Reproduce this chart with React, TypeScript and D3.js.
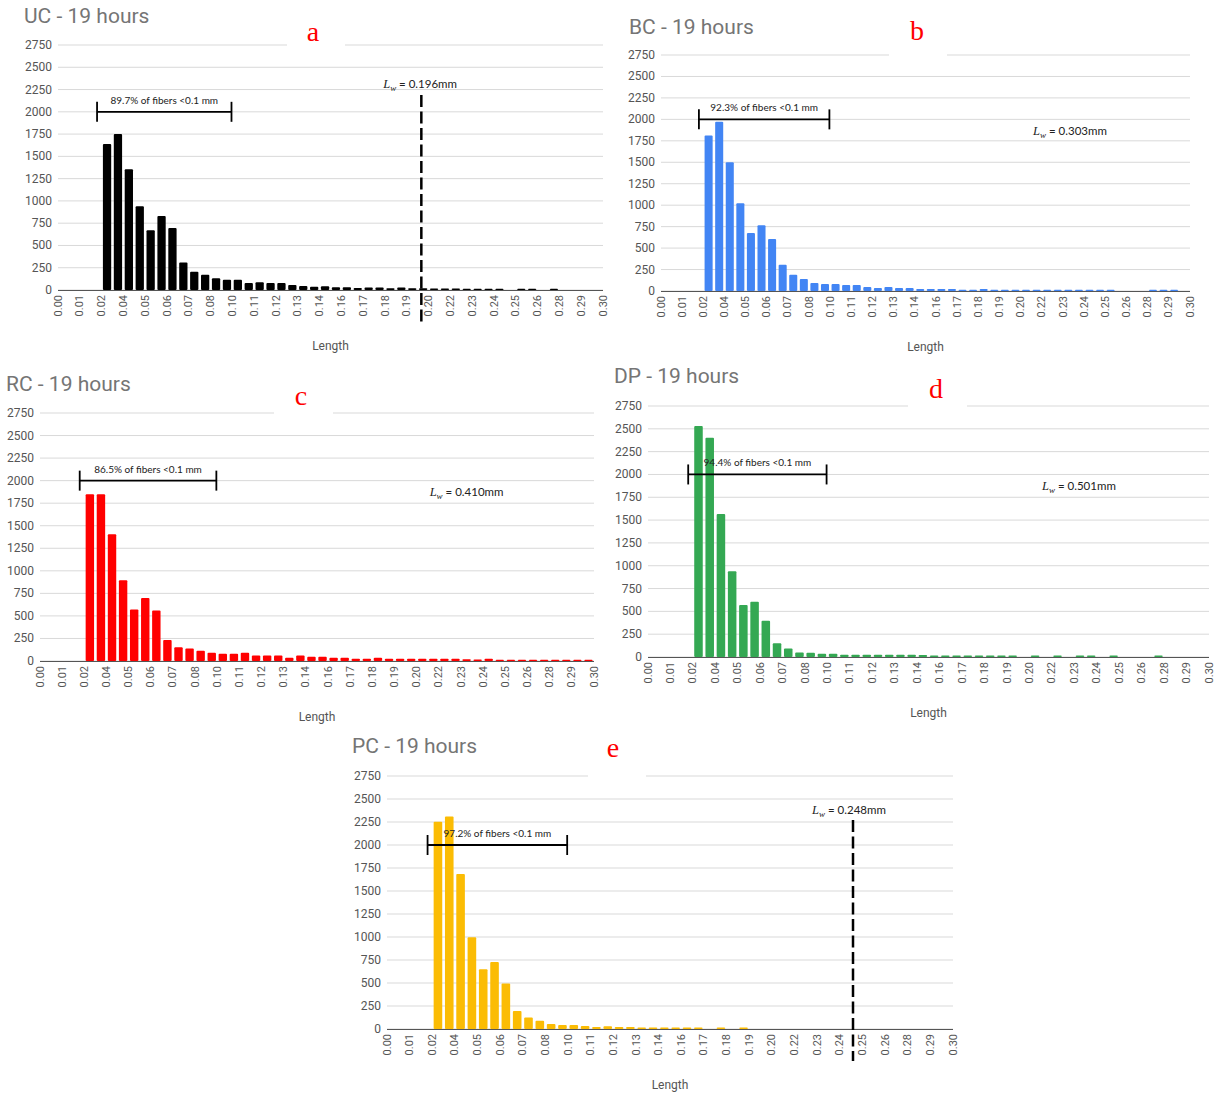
import React from "react";
import * as d3 from "d3";

// ---------- data ----------
const BIN = 0.006; // histogram bucket size (mm)
const X_TICK_VALUES = [0, 0.012, 0.024, 0.036, 0.048, 0.06, 0.072, 0.084, 0.096, 0.108, 0.12, 0.132, 0.144, 0.156, 0.168, 0.18, 0.192, 0.204, 0.216, 0.228, 0.24, 0.252, 0.264, 0.276, 0.288, 0.3];
const X_TICK_LABELS = ["0.00", "0.01", "0.02", "0.04", "0.05", "0.06", "0.07", "0.08", "0.10", "0.11", "0.12", "0.13", "0.14", "0.16", "0.17", "0.18", "0.19", "0.20", "0.22", "0.23", "0.24", "0.25", "0.26", "0.28", "0.29", "0.30"];
const Y_TICKS = [0, 250, 500, 750, 1000, 1250, 1500, 1750, 2000, 2250, 2500, 2750];

const UC = [0, 0, 0, 0, 1640, 1750, 1355, 940, 670, 830, 695, 310, 206, 170, 133, 114, 114, 79, 88, 78, 78, 55, 44, 36, 42, 32, 32, 23, 28, 28, 21, 28, 21, 21, 16, 18, 16, 15, 15, 15, 15, 0, 15, 15, 0, 15, 0, 0, 0, 0];
const BC = [0, 0, 0, 0, 1812, 1972, 1500, 1022, 675, 765, 605, 305, 190, 140, 93, 82, 82, 70, 70, 46, 35, 46, 35, 35, 24, 24, 24, 24, 16, 16, 24, 15, 15, 15, 15, 15, 15, 15, 15, 15, 15, 15, 15, 0, 0, 0, 15, 15, 15, 0];
const RC = [0, 0, 0, 0, 1850, 1850, 1405, 895, 571, 699, 560, 233, 153, 139, 115, 92, 80, 81, 92, 60, 60, 60, 37, 61, 46, 46, 35, 35, 24, 24, 35, 25, 25, 25, 25, 25, 25, 25, 20, 17, 24, 15, 15, 15, 15, 15, 15, 15, 15, 15];
const DP = [0, 0, 0, 0, 2530, 2402, 1566, 940, 569, 604, 396, 150, 93, 48, 46, 35, 35, 24, 24, 24, 24, 24, 24, 24, 22, 16, 16, 16, 16, 16, 16, 16, 16, 0, 16, 0, 16, 0, 16, 16, 0, 16, 0, 0, 0, 16, 0, 0, 0, 0];
const PC = [0, 0, 0, 0, 2252, 2310, 1684, 998, 650, 729, 494, 196, 124, 89, 55, 44, 44, 33, 22, 31, 22, 22, 16, 16, 15, 15, 15, 15, 0, 15, 0, 15, 0, 0, 0, 0, 0, 0, 0, 0, 0, 0, 0, 0, 0, 0, 0, 0, 0, 0];

const SERIES_NAMES = ["UC", "BC", "RC", "DP", "PC"];
const SERIES_COLORS = ["#000000", "#4285F4", "#FF0000", "#34A853", "#FBBC04"];
const PANEL_LETTERS = ["a", "b", "c", "d", "e"];
const FRACTION_LABELS = ["89.7%", "92.3%", "86.5%", "94.4%", "97.2%"];
const LW_LABELS = ["0.196mm", "0.303mm", "0.410mm", "0.501mm", "0.248mm"];

type Geo = {
  x0: number; x1: number; yTop: number; yBase: number;
  titleX: number; titleY: number;
  letterX: number; letterY: number;
  gap: [number, number];
  lwX: number; lwY: number;
  dash?: { x: number; top: number };
};

const GEOS: Geo[] = [
  { x0: 58, x1: 603, yTop: 45, yBase: 290, titleX: 24, titleY: 23, letterX: 313, letterY: 41, gap: [287, 345], lwX: 0.179, lwY: 2267, dash: { x: 0.2, top: 2189 } },
  { x0: 661, x1: 1190, yTop: 55, yBase: 291, titleX: 629, titleY: 34, letterX: 917, letterY: 40, gap: [889, 947], lwX: 0.211, lwY: 1818 },
  { x0: 40, x1: 594, yTop: 413, yBase: 661, titleX: 6, titleY: 391, letterX: 301, letterY: 405, gap: [274, 333], lwX: 0.211, lwY: 1830 },
  { x0: 648, x1: 1209, yTop: 406, yBase: 657, titleX: 614, titleY: 383, letterX: 936, letterY: 398, gap: [908, 967], lwX: 0.2107, lwY: 1830 },
  { x0: 387, x1: 953, yTop: 776, yBase: 1029, titleX: 352, titleY: 753, letterX: 613, letterY: 757, gap: [588, 646], lwX: 0.2253, lwY: 2337, dash: { x: 0.247, top: 2272 } },
];

const DATA = [UC, BC, RC, DP, PC];

function Panel({ idx }: { idx: number }) {
  const g = GEOS[idx];
  const data = DATA[idx];
  const color = SERIES_COLORS[idx];
  const x = d3.scaleLinear().domain([0, 0.3]).range([g.x0, g.x1]);
  const y = d3.scaleLinear().domain([0, 2750]).range([g.yBase, g.yTop]);
  const slot = x(BIN) - x(0);
  const bw = slot * 0.76;
  const bx0 = x(0.0215);
  const bx1 = x(0.0955);
  const by = y(2000);
  return (
    <g>
      {Y_TICKS.map((t) => (
        <line key={"g" + t} x1={g.x0} x2={g.x1} y1={y(t)} y2={y(t)} stroke="#d9d9d9" strokeWidth={1} />
      ))}
      <rect x={g.gap[0]} y={y(2750) - 3} width={g.gap[1] - g.gap[0]} height={6} fill="#ffffff" />
      {Y_TICKS.map((t) => (
        <text key={"yl" + t} x={g.x0 - 6} y={y(t)} textAnchor="end" dominantBaseline="central" fontSize={12} fill="#555" fontFamily="Roboto, sans-serif">
          {t}
        </text>
      ))}
      {data.map((v, i) =>
        v > 0 ? (
          <rect key={"b" + i} x={x(i * BIN) + (slot - bw) / 2} y={y(v)} width={bw} height={g.yBase - y(v)} fill={color} rx={1} ry={1} />
        ) : null
      )}
      <line x1={g.x0} x2={g.x1} y1={g.yBase + 0.5} y2={g.yBase + 0.5} stroke="#555" strokeWidth={1.2} />
      {X_TICK_VALUES.map((t, i) => (
        <text key={"xl" + i} transform={`translate(${x(t)},${g.yBase + 5}) rotate(-90)`} textAnchor="end" dominantBaseline="central" fontSize={11} fill="#555" fontFamily="Roboto, sans-serif">
          {X_TICK_LABELS[i]}
        </text>
      ))}
      <text x={(g.x0 + g.x1) / 2} y={g.yBase + 60} textAnchor="middle" fontSize={12} fill="#555" fontFamily="Roboto, sans-serif">
        Length
      </text>
      <text x={g.titleX} y={g.titleY} fontSize={21} fill="#757575" fontFamily="Roboto, sans-serif">
        {SERIES_NAMES[idx]} - 19 hours
      </text>
      <text x={g.letterX} y={g.letterY} textAnchor="middle" fontSize={28} fill="#ff0000" fontFamily="'Liberation Serif', serif">
        {PANEL_LETTERS[idx]}
      </text>
      {/* bracket */}
      <line x1={bx0} x2={bx1} y1={by} y2={by} stroke="#000" strokeWidth={1.8} />
      <line x1={bx0} x2={bx0} y1={by - 10} y2={by + 10} stroke="#000" strokeWidth={1.8} />
      <line x1={bx1} x2={bx1} y1={by - 10} y2={by + 10} stroke="#000" strokeWidth={1.8} />
      <text x={(bx0 + bx1) / 2} y={by - 8} textAnchor="middle" fontSize={10} fill="#222" fontFamily="Lato, sans-serif">
        {FRACTION_LABELS[idx]} of fibers &lt;0.1 mm
      </text>
      {/* Lw */}
      <text x={x(g.lwX)} y={y(g.lwY)} fontSize={11.5} fill="#222" fontFamily="Lato, sans-serif">
        <tspan fontFamily="'Liberation Serif', serif" fontStyle="italic" fontSize={12.5}>L</tspan>
        <tspan fontFamily="'Liberation Serif', serif" fontStyle="italic" fontSize={9} dy={3}>w</tspan>
        <tspan dy={-3}> = {LW_LABELS[idx]}</tspan>
      </text>
      {g.dash ? (
        <line x1={x(g.dash.x)} x2={x(g.dash.x)} y1={y(g.dash.top)} y2={g.yBase + 32} stroke="#000" strokeWidth={2.5} strokeDasharray="12 4.5" />
      ) : null}
    </g>
  );
}

export default function App() {
  return (
    <svg width={1215} height={1095} style={{ position: "absolute", left: 0, top: 0, background: "#fff" }} xmlns="http://www.w3.org/2000/svg">
      <rect x={0} y={0} width={1215} height={1095} fill="#fff" />
      {GEOS.map((_, i) => (
        <Panel key={i} idx={i} />
      ))}
    </svg>
  );
}
